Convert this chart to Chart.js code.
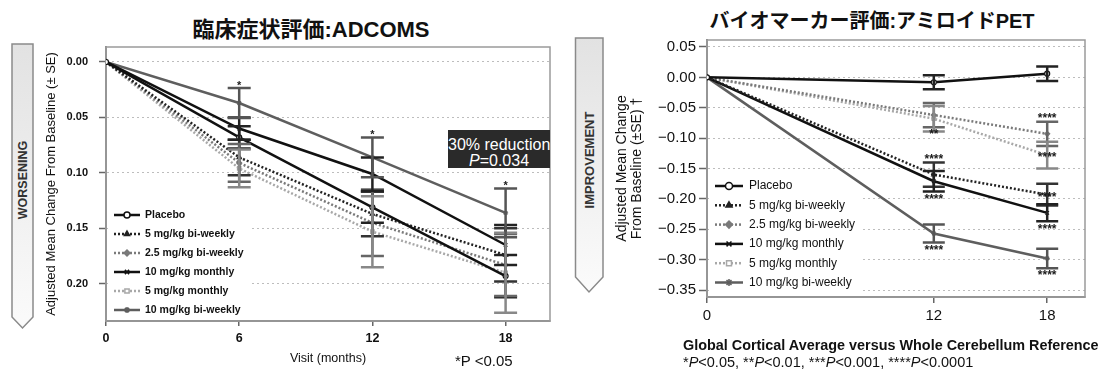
<!DOCTYPE html>
<html>
<head>
<meta charset="utf-8">
<script src="https://cdn.jsdelivr.net/npm/chart.js@4.4.1/dist/chart.umd.min.js"></script>
<style>
  body { margin: 0; background: #fff; }
  #wrap { position: relative; width: 1102px; height: 378px; overflow: hidden; background: #fff;
          font-family: "Liberation Sans", Arial, "Noto Sans CJK JP", sans-serif; color: #111; }
  canvas { position: absolute; top: 0; }
  #adcoms { left: 0; }
  #pet { left: 560px; }
  .title { position: absolute; transform: translate(-50%, -50%); white-space: nowrap; font-weight: bold; }
  .note { position: absolute; transform: translateY(-50%); white-space: nowrap; }
  #reduction { position: absolute; left: 448px; top: 130px; width: 102px; height: 38px; box-sizing: border-box;
               background: #2a2a2a; color: #fff; font-size: 16px; line-height: 16px; padding-top: 7px;
               text-align: center; white-space: nowrap; overflow: hidden; }
</style>
</head>
<body>
<div id="wrap">
  <svg width="1102" height="378" style="position:absolute;left:0;top:0">
    <defs>
      <linearGradient id="shade" x1="0" y1="0" x2="0" y2="1">
        <stop offset="0" stop-color="#e2e2e2"/>
        <stop offset="1" stop-color="#fbfbfb"/>
      </linearGradient>
    </defs>
    <polygon points="12,44 33,44 33,317 22.5,328 12,317" fill="url(#shade)" stroke="#8a8a8a" stroke-width="1.5"/>
    <text x="22.5" y="180" transform="rotate(-90 22.5 180)" text-anchor="middle" dominant-baseline="central"
          font-family="Liberation Sans, Arial, sans-serif" font-weight="bold" font-size="12.5" fill="#333">WORSENING</text>
    <polygon points="575.5,38 603,38 603,277 589,292 575.5,277" fill="url(#shade)" stroke="#8a8a8a" stroke-width="1.5"/>
    <text x="589" y="160" transform="rotate(-90 589 160)" text-anchor="middle" dominant-baseline="central"
          font-family="Liberation Sans, Arial, sans-serif" font-weight="bold" font-size="13" fill="#333">IMPROVEMENT</text>
  </svg>

  <div class="title" style="left:311px; top:27px; font-size:22px;">臨床症状評価:ADCOMS</div>
  <div class="title" style="left:872px; top:19px; font-size:20px;">バイオマーカー評価:アミロイドPET</div>

  <canvas id="adcoms" width="560" height="378"></canvas>
  <canvas id="pet" width="542" height="378"></canvas>

  <div id="reduction">30% reduction<br><i>P</i>=0.034</div>
  <div class="note" style="left:455px; top:360px; font-size:15px;">*P &lt;0.05</div>
  <div class="note" style="left:683px; top:345px; font-size:14.4px; font-weight:bold;">Global Cortical Average versus Whole Cerebellum Reference</div>
  <div class="note" style="left:683px; top:362px; font-size:14.5px;">*<i>P</i>&lt;0.05, **<i>P</i>&lt;0.01, ***<i>P</i>&lt;0.001, ****<i>P</i>&lt;0.0001</div>
</div>

<script>
// ---- data ----
const SERIES = ['Placebo', '5 mg/kg bi-weekly', '2.5 mg/kg bi-weekly', '10 mg/kg monthly', '5 mg/kg monthly', '10 mg/kg bi-weekly'];

// ADCOMS, adjusted mean change from baseline (visits 0/6/12/18 months)
const visitMonths = [0, 6, 12, 18];
const visitTicks = [0, 6, 12, 18];
const adcomsTicks = [0, 0.05, 0.10, 0.15, 0.20];
const adcomsPlacebo = [0, 0.068, 0.131, 0.193];
const adcoms5bw     = [0, 0.086, 0.137, 0.174];
const adcoms25bw    = [0, 0.091, 0.145, 0.183];
const adcoms10m     = [0, 0.060, 0.101, 0.165];
const adcoms5m      = [0, 0.096, 0.153, 0.190];
const adcoms10bw    = [0, 0.037, 0.086, 0.136];
const adcomsPlaceboSE = [0, 0.010, 0.014, 0.019];
const adcoms5bwSE     = [0, 0.016, 0.020, 0.024];
const adcoms25bwSE    = [0, 0.017, 0.030, 0.028];
const adcoms10mSE     = [0, 0.010, 0.015, 0.018];
const adcoms5mSE      = [0, 0.017, 0.032, 0.036];
const adcoms10bwSE    = [0, 0.0135, 0.018, 0.022];
const adcoms10bwSig   = ['', '*', '*', '*'];

// Amyloid PET SUVr (months 0/12/18)
const petMonths = [0, 12, 18];
const petXTicks = [0, 12, 18];
const petYTicks = [0.05, 0, -0.05, -0.10, -0.15, -0.20, -0.25, -0.30, -0.35];
const petPlacebo = [0, -0.008, 0.006];
const pet5bw     = [0, -0.160, -0.193];
const pet25bw    = [0, -0.062, -0.093];
const pet10m     = [0, -0.171, -0.223];
const pet5m      = [0, -0.068, -0.128];
const pet10bw    = [0, -0.257, -0.298];
const petPlaceboSE = [0, 0.0115, 0.012];
const pet5bwSE     = [0, 0.020, 0.018];
const pet25bwSE    = [0, 0.020, 0.020];
const pet10mSE     = [0, 0.017, 0.014];
const pet5mSE      = [0, 0.021, 0.022];
const pet10bwSE    = [0, 0.015, 0.016];
const pet5bwSig    = ['', '****', '****'];
const pet25bwSig   = ['', '**', '****'];
const pet10mSig    = ['', '****', '****'];
const pet5mSig     = ['', '', '****'];
const pet10bwSig   = ['', '****', '****'];

// ---- styles ----
const SANS = '"Liberation Sans", Arial, sans-serif';
const lineColors = ['#111', '#222', '#7a7a7a', '#111', '#a8a8a8', '#5e5e5e'];
const dashed = [false, true, true, false, true, false];
const markers = ['circle', 'triangle', 'rectRot', 'crossRot', 'rect', 'star'];
const markerFill = ['#fff', '#222', '#7a7a7a', '#111', '#fff', '#5e5e5e'];
const barColors = ['#222', '#333', '#666', '#222', '#888', '#555'];

Chart.defaults.font.family = SANS;
Chart.defaults.color = '#111';

function buildSets(months, means, ses, sigs, sigPos) {
  return SERIES.map((name, i) => ({
    label: name,
    data: months.map((m, j) => ({ x: m, y: means[i][j] })),
    se: ses[i],
    sig: sigs[i] || [],
    sigPos: sigPos[i] || [],
    barColor: barColors[i],
    borderColor: lineColors[i],
    backgroundColor: lineColors[i],
    borderWidth: 2.5,
    borderDash: dashed[i] ? [2, 2] : [],
    pointStyle: markers[i],
    pointRadius: 2.5,
    pointBackgroundColor: markerFill[i],
    pointBorderColor: lineColors[i],
    pointBorderWidth: 1.2,
    tension: 0,
    fill: false
  }));
}

// ---- plugins ----
const frame = {
  id: 'frame',
  beforeDatasetsDraw(chart) {
    const { ctx, chartArea: ca } = chart;
    ctx.save();
    ctx.strokeStyle = '#9a9a9a';
    ctx.lineWidth = 1.5;
    ctx.strokeRect(ca.left, ca.top, ca.right - ca.left, ca.bottom - ca.top);
    ctx.restore();
  }
};

const legendBox = {
  id: 'legendBox',
  beforeDatasetsDraw(chart, args, o) {
    const { ctx, chartArea: ca } = chart;
    ctx.save();
    ctx.fillStyle = '#fff';
    ctx.fillRect(ca.left + 2, ca.bottom - o.boxH, o.boxW, o.boxH - 2);
    chart.data.datasets.forEach((ds, i) => {
      const yy = ca.bottom - o.firstRow + i * o.step;
      const x0 = ca.left + o.sample[0], x1 = ca.left + o.sample[1];
      ctx.strokeStyle = ds.borderColor;
      ctx.lineWidth = ds.borderWidth;
      ctx.setLineDash(ds.borderDash);
      ctx.beginPath(); ctx.moveTo(x0, yy); ctx.lineTo(x1, yy); ctx.stroke();
      ctx.setLineDash([]);
      ctx.fillStyle = ds.pointBackgroundColor;
      ctx.lineWidth = 1.5;
      Chart.helpers.drawPoint(ctx, { pointStyle: ds.pointStyle, radius: o.radius, borderWidth: 1.5, rotation: 0 }, (x0 + x1) / 2, yy);
      ctx.fillStyle = '#111';
      ctx.font = o.font;
      ctx.textBaseline = 'middle';
      ctx.textAlign = 'left';
      ctx.fillText(ds.label, ca.left + o.textX, yy);
    });
    ctx.restore();
  }
};

const errorBars = {
  id: 'errorBars',
  afterDatasetsDraw(chart, args, o) {
    const { ctx, scales: { x, y } } = chart;
    ctx.save();
    ctx.lineWidth = o.width;
    chart.data.datasets.forEach(ds => {
      ds.data.forEach((p, j) => {
        const se = ds.se[j];
        if (!se) return;
        const px = x.getPixelForValue(p.x);
        const a = y.getPixelForValue(p.y - se), b = y.getPixelForValue(p.y + se);
        ctx.strokeStyle = ds.barColor;
        ctx.beginPath();
        ctx.moveTo(px, a); ctx.lineTo(px, b);
        ctx.moveTo(px - o.cap, a); ctx.lineTo(px + o.cap, a);
        ctx.moveTo(px - o.cap, b); ctx.lineTo(px + o.cap, b);
        ctx.stroke();
      });
    });
    ctx.restore();
  }
};

const sigLabels = {
  id: 'sigLabels',
  afterDatasetsDraw(chart, args, o) {
    const { ctx, scales: { x, y } } = chart;
    ctx.save();
    ctx.font = o.font;
    ctx.fillStyle = '#1a1a1a';
    ctx.textAlign = 'center';
    ctx.textBaseline = 'middle';
    chart.data.datasets.forEach(ds => {
      ds.sig.forEach((txt, j) => {
        if (!txt) return;
        const p = ds.data[j], se = ds.se[j];
        const a = y.getPixelForValue(p.y - se), b = y.getPixelForValue(p.y + se);
        const where = ds.sigPos[j];
        let py;
        if (where === 'above') py = Math.min(a, b) - o.above;
        else if (where === 'below') py = Math.max(a, b) + o.below;
        else py = y.getPixelForValue(p.y) + o.at;
        ctx.fillText(txt, x.getPixelForValue(p.x), py);
      });
    });
    ctx.restore();
  }
};

const fmt2 = v => (v < 0 ? '\u2212' + Math.abs(v).toFixed(2) : Math.abs(v).toFixed(2));

// ---- left: ADCOMS ----
new Chart(document.getElementById('adcoms'), {
  type: 'line',
  data: {
    datasets: buildSets(
      visitMonths,
      [adcomsPlacebo, adcoms5bw, adcoms25bw, adcoms10m, adcoms5m, adcoms10bw],
      [adcomsPlaceboSE, adcoms5bwSE, adcoms25bwSE, adcoms10mSE, adcoms5mSE, adcoms10bwSE],
      [[], [], [], [], [], adcoms10bwSig],
      [[], [], [], [], [], ['', 'above', 'above', 'above']]
    )
  },
  options: {
    responsive: false,
    animation: false,
    layout: { padding: { left: 40, right: 10, top: 47, bottom: 12 } },
    plugins: {
      legend: { display: false },
      tooltip: { enabled: false },
      legendBox: { boxW: 143, boxH: 122, firstRow: 106, step: 19, sample: [8, 34], textX: 39, radius: 3, font: 'bold 10.5px ' + SANS },
      errorBars: { width: 2.5, cap: 11.5 },
      sigLabels: { font: 'bold 11px ' + SANS, above: 2, below: 8, at: 3 }
    },
    scales: {
      x: {
        type: 'linear', min: 0, max: 20,
        afterBuildTicks: s => { s.ticks = visitTicks.map(v => ({ value: v })); },
        afterFit: s => { s.height = 45; },
        grid: { drawOnChartArea: false, tickLength: 5, tickColor: '#666', lineWidth: 1.5 },
        border: { color: '#888', width: 2 },
        ticks: { padding: 5, color: '#111', font: { size: 12.5, weight: 'bold' } },
        title: { display: true, text: 'Visit (months)', padding: 0, color: '#111', font: { size: 12.5 } }
      },
      y: {
        type: 'linear', reverse: true, min: -0.0135, max: 0.2335,
        afterBuildTicks: s => { s.ticks = adcomsTicks.map(v => ({ value: v })); },
        afterFit: s => { s.width = 66; },
        grid: { color: '#bdbdbd', lineWidth: 1, tickLength: 7, tickColor: '#666', tickWidth: 1.5 },
        border: { color: '#888', width: 2, dash: [2, 3] },
        ticks: { padding: 11, color: '#111', font: { size: 11, weight: 'bold' }, callback: v => fmt2(v) },
        title: { display: true, text: 'Adjusted Mean Change From Baseline (\u00b1 SE)', padding: { top: 4, bottom: 0 }, color: '#111', font: { size: 13 } }
      }
    }
  },
  plugins: [frame, legendBox, errorBars, sigLabels]
});

// ---- right: amyloid PET ----
new Chart(document.getElementById('pet'), {
  type: 'line',
  data: {
    datasets: buildSets(
      petMonths,
      [petPlacebo, pet5bw, pet25bw, pet10m, pet5m, pet10bw],
      [petPlaceboSE, pet5bwSE, pet25bwSE, pet10mSE, pet5mSE, pet10bwSE],
      [[], pet5bwSig, pet25bwSig, pet10mSig, pet5mSig, pet10bwSig],
      [[], ['', 'above', 'at'], ['', 'below', 'above'], ['', 'below', 'below'], ['', '', 'at'], ['', 'below', 'below']]
    )
  },
  options: {
    responsive: false,
    animation: false,
    layout: { padding: { left: 50, right: 17, top: 40, bottom: 24 } },
    plugins: {
      legend: { display: false },
      tooltip: { enabled: false },
      legendBox: { boxW: 152, boxH: 121, firstRow: 111, step: 19.3, sample: [8, 36], textX: 42, radius: 3.5, font: '12px ' + SANS },
      errorBars: { width: 2.5, cap: 11 },
      sigLabels: { font: 'bold 12px ' + SANS, above: 3, below: 8, at: 3 }
    },
    scales: {
      x: {
        type: 'linear', min: 0, max: 20,
        afterBuildTicks: s => { s.ticks = petXTicks.map(v => ({ value: v })); },
        afterFit: s => { s.height = 57; },
        grid: { drawOnChartArea: false, tickLength: 6, tickColor: '#666', lineWidth: 1.5 },
        border: { color: '#888', width: 2 },
        ticks: { padding: 4, color: '#111', font: { size: 15 } }
      },
      y: {
        type: 'linear', min: -0.3615, max: 0.0615,
        afterBuildTicks: s => { s.ticks = petYTicks.map(v => ({ value: v })); },
        afterFit: s => { s.width = 97; },
        grid: { color: '#bdbdbd', lineWidth: 1, tickLength: 8, tickColor: '#666', tickWidth: 1.5 },
        border: { color: '#888', width: 2, dash: [2, 3] },
        ticks: { padding: 3, color: '#111', font: { size: 15 }, callback: v => fmt2(v) },
        title: { display: true, text: ['Adjusted Mean Change', 'From Baseline (\u00b1SE) \u2020'], padding: { top: 4, bottom: 0 }, color: '#111', font: { size: 14, lineHeight: 1.1 } }
      }
    }
  },
  plugins: [frame, legendBox, errorBars, sigLabels]
});
</script>
</body>
</html>
